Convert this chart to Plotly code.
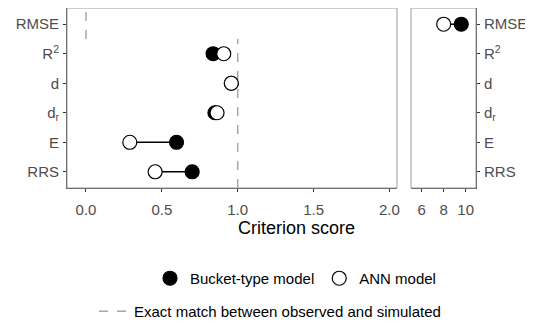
import plotly.graph_objects as go

# ---- data ----
metrics = ["RRS", "E", "d<sub>r</sub>", "d", "R<sup>2</sup>", "RMSE"]
bucket = [0.70, 0.597, 0.85, 0.958, 0.838, 9.6]
ann = [0.456, 0.289, 0.864, 0.958, 0.908, 8.0]
exact_match = {"RMSE": 0.0, "other": 1.0}
left_ticks = [0.0, 0.5, 1.0, 1.5, 2.0]
left_ticktext = ["0.0", "0.5", "1.0", "1.5", "2.0"]
right_ticks = [6, 8, 10]

# page body has an 8px margin; design in page pixels and subtract it
OFF = 8
W, H = 533 - OFF, 328 - OFF
PL, PR, PT, PB = 67, 476, 8, 197  # plot area in page pixels
L = PL - OFF
T = PT - OFF
R = W - (PR - OFF)
B = H - (PB - OFF)
pw = W - L - R
ph = H - T - B

def px2x(p):
    return (p - PL) / pw

def px2y(p):
    return (PB - p) / ph

fig = go.Figure()

left_idx = [i for i, m in enumerate(metrics) if m != "RMSE"]
right_idx = [i for i, m in enumerate(metrics) if m == "RMSE"]

def segs(idx):
    xs, ys = [], []
    for i in idx:
        xs += [bucket[i], ann[i], None]
        ys += [metrics[i], metrics[i], None]
    return xs, ys

for idx, xa, ya in [(left_idx, "x", "y"), (right_idx, "x2", "y2")]:
    sx, sy = segs(idx)
    fig.add_trace(go.Scatter(x=sx, y=sy, mode="lines", xaxis=xa, yaxis=ya,
                             line=dict(color="black", width=1.5),
                             showlegend=False, hoverinfo="skip"))
    fig.add_trace(go.Scatter(x=[bucket[i] for i in idx], y=[metrics[i] for i in idx],
                             mode="markers", xaxis=xa, yaxis=ya,
                             name="Bucket-type model", legendgroup="b",
                             showlegend=(xa == "x"),
                             marker=dict(size=14, color="black",
                                         line=dict(color="black", width=1.2))))
    fig.add_trace(go.Scatter(x=[ann[i] for i in idx], y=[metrics[i] for i in idx],
                             mode="markers", xaxis=xa, yaxis=ya,
                             name="ANN model", legendgroup="a",
                             showlegend=(xa == "x"),
                             marker=dict(size=14, color="white",
                                         line=dict(color="black", width=1.2))))

# legend entry for the dashed reference
fig.add_trace(go.Scatter(x=[None], y=[None], mode="lines", xaxis="x", yaxis="y",
                         name="Exact match between observed and simulated",
                         line=dict(color="#a6a6a6", width=1.5, dash="dash"),
                         legend="legend2"))

n = len(metrics)
rmse_pos = metrics.index("RMSE")
top = n - 1 + 0.55
bot = -0.55
shapes = [
    dict(type="line", xref="x", yref="y", x0=exact_match["RMSE"], x1=exact_match["RMSE"],
         y0=rmse_pos - 0.5, y1=top, line=dict(color="#a6a6a6", width=1.5, dash="dash"), layer="below"),
    dict(type="line", xref="x", yref="y", x0=exact_match["other"], x1=exact_match["other"],
         y0=bot, y1=rmse_pos - 0.5, line=dict(color="#a6a6a6", width=1.5, dash="dash"), layer="below"),
    dict(type="rect", xref="x domain", yref="y domain", x0=0, x1=1, y0=0, y1=1,
         line=dict(color="#9a9a9a", width=1)),
    dict(type="rect", xref="x2 domain", yref="y2 domain", x0=0, x1=1, y0=0, y1=1,
         line=dict(color="#9a9a9a", width=1)),
]

tickfont = dict(family="Liberation Sans, Arial, sans-serif", size=15, color="#4d4d4d")
axis_common = dict(showgrid=False, zeroline=False, ticks="outside", ticklen=3,
                   tickcolor="#333333", tickwidth=1, showline=True,
                   linecolor="#4d4d4d", linewidth=1, tickfont=tickfont)

fig.update_layout(
    width=W, height=H,
    margin=dict(l=L, r=R, t=T, b=B, pad=0),
    paper_bgcolor="white", plot_bgcolor="white",
    font=dict(family="Liberation Sans, Arial, sans-serif", color="black"),
    xaxis=dict(domain=[0, px2x(397)], range=[-0.125, 2.05], tickvals=left_ticks,
               ticktext=left_ticktext, anchor="y", ticklabelstandoff=5, **axis_common),
    xaxis2=dict(domain=[px2x(411), 1], range=[5.03, 10.94], tickvals=right_ticks,
                anchor="y2", ticklabelstandoff=5, **axis_common),
    yaxis=dict(type="category", categoryorder="array", categoryarray=metrics,
               range=[bot, top], anchor="x", side="left", ticklabelstandoff=1, **axis_common),
    yaxis2=dict(type="category", categoryorder="array", categoryarray=metrics,
                range=[bot, top], anchor="x2", side="right", matches="y",
                ticklabelstandoff=1, **axis_common),
    shapes=shapes,
    annotations=[dict(text="Criterion score", xref="paper", yref="paper",
                      x=px2x(296), y=px2y(239), showarrow=False,
                      font=dict(size=18, color="black"), xanchor="center", yanchor="middle")],
    legend=dict(orientation="h", x=px2x(150), y=px2y(292), xanchor="left", yanchor="middle",
                font=dict(size=15, color="black"), bgcolor="rgba(0,0,0,0)",
                traceorder="normal", itemwidth=30),
    legend2=dict(orientation="h", x=px2x(94), y=px2y(327), xanchor="left", yanchor="middle",
                 font=dict(size=15, color="black"), bgcolor="rgba(0,0,0,0)"),
)

fig.write_html("out.html")
